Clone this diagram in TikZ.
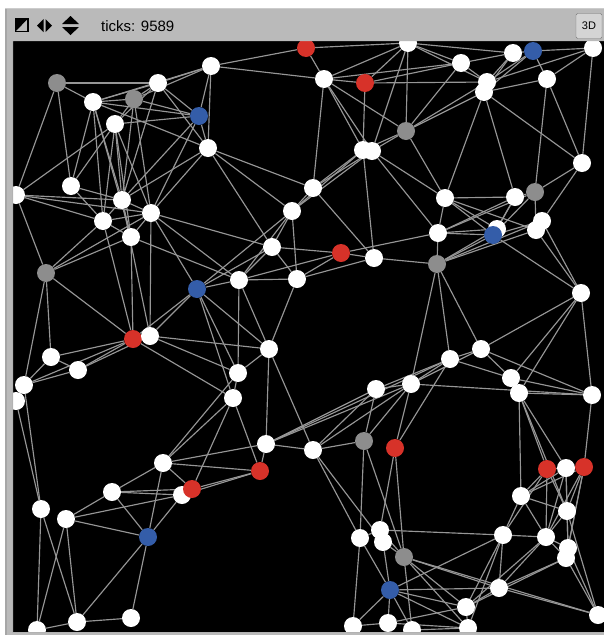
\documentclass[tikz,border=0pt]{standalone}
\usepackage{fontspec}
\setsansfont{Liberation Sans}
\usetikzlibrary{backgrounds}
\definecolor{nlred}{RGB}{215,50,41}
\definecolor{nlblue}{RGB}{52,93,169}
\definecolor{nlgray}{RGB}{141,141,141}
\definecolor{nlwhite}{RGB}{255,255,255}
\definecolor{linkgray}{RGB}{150,150,150}
\definecolor{barfill}{RGB}{186,186,186}
\definecolor{btnfill}{RGB}{212,212,212}
\definecolor{btnedge}{RGB}{120,120,120}

\begin{document}
\begin{tikzpicture}[x=1pt, y=-1pt,
  agent/.style={circle, minimum size=18pt, inner sep=0pt, draw=none},
  link/.style={draw=linkgray, line width=1.15pt},
  ticklabel/.style={font=\sffamily\fontsize{15}{17}\selectfont, anchor=base west, inner sep=0pt},
  viewbtn/.style={draw=btnedge, fill=btnfill, rounded corners=1.5pt, minimum width=26pt, minimum height=25pt, inner sep=0pt, font=\sffamily\fontsize{11}{12}\selectfont}]
  \useasboundingbox (0,0) rectangle (604,635);
  % turtles
  \foreach \i/\x/\y/\c in {1/306/48/nlred, 2/408/43/nlwhite, 3/513/53/nlwhite, 4/533/51/nlblue,
    5/593/48/nlwhite, 6/211/66/nlwhite, 7/461/63/nlwhite, 8/324/79/nlwhite, 9/365/83/nlred,
    10/487/82/nlwhite, 11/484/92/nlwhite, 12/547/79/nlwhite, 13/57/83/nlgray, 14/158/83/nlwhite,
    15/93/102/nlwhite, 16/134/99/nlgray, 17/115/124/nlwhite, 18/199/116/nlblue, 19/208/148/nlwhite,
    20/406/131/nlgray, 21/363/150/nlwhite, 22/372/151/nlwhite, 23/582/163/nlwhite, 24/71/186/nlwhite,
    25/16/195/nlwhite, 26/122/200/nlwhite, 27/151/213/nlwhite, 28/103/221/nlwhite, 29/131/237/nlwhite,
    30/313/188/nlwhite, 31/292/211/nlwhite, 32/445/198/nlwhite, 33/515/197/nlwhite, 34/535/192/nlgray,
    35/542/221/nlwhite, 36/536/230/nlwhite, 37/497/229/nlwhite, 38/493/235/nlblue, 39/438/233/nlwhite,
    40/272/247/nlwhite, 41/341/253/nlred, 42/374/258/nlwhite, 43/437/264/nlgray, 44/46/273/nlgray,
    45/197/289/nlblue, 46/239/280/nlwhite, 47/297/279/nlwhite, 48/581/293/nlwhite, 49/133/339/nlred,
    50/150/336/nlwhite, 51/51/357/nlwhite, 52/78/370/nlwhite, 53/269/349/nlwhite, 54/481/349/nlwhite,
    55/450/359/nlwhite, 56/238/373/nlwhite, 57/511/378/nlwhite, 58/24/385/nlwhite, 59/411/384/nlwhite,
    60/376/389/nlwhite, 61/519/393/nlwhite, 62/592/395/nlwhite, 63/16/401/nlwhite, 64/233/398/nlwhite,
    65/266/444/nlwhite, 66/364/441/nlgray, 67/395/448/nlred, 68/313/450/nlwhite, 69/163/463/nlwhite,
    70/260/471/nlred, 71/547/469/nlred, 72/566/468/nlwhite, 73/584/467/nlred, 74/112/492/nlwhite,
    75/182/495/nlwhite, 76/192/489/nlred, 77/521/496/nlwhite, 78/41/509/nlwhite, 79/567/511/nlwhite,
    80/66/519/nlwhite, 81/503/535/nlwhite, 82/546/537/nlwhite, 83/148/537/nlblue, 84/360/538/nlwhite,
    85/380/530/nlwhite, 86/383/542/nlwhite, 87/404/557/nlgray, 88/568/548/nlwhite, 89/566/558/nlwhite,
    90/390/590/nlblue, 91/499/588/nlwhite, 92/466/607/nlwhite, 93/598/615/nlwhite, 94/131/618/nlwhite,
    95/77/622/nlwhite, 96/37/630/nlwhite, 97/353/626/nlwhite, 98/388/623/nlwhite, 99/412/630/nlwhite,
    100/468/628/nlwhite}
    \node[agent, fill=\c] (n\i) at (\x,\y) {};
  % links, under the turtles
  \begin{scope}[on background layer]
    \fill[black] (13,41) rectangle (604,632);
    \foreach \a/\b in {13/14, 13/15, 13/25, 13/24,
      15/14, 15/16, 15/18, 15/19, 15/24, 15/28, 15/26, 15/29,
      16/14, 16/18, 16/17, 16/26, 16/27, 16/6,
      17/25, 17/24, 17/18, 17/26, 17/29, 17/27, 17/14, 17/28,
      14/6, 14/18, 14/19, 14/26, 6/18, 6/19, 6/1, 6/8, 6/15,
      18/19, 18/27, 18/26, 19/27, 19/30, 19/40, 19/31, 19/26,
      25/26, 25/28, 25/44, 25/27, 24/26, 24/28,
      26/27, 26/28, 26/29, 26/50, 27/28, 27/29, 27/40, 27/45, 27/46, 27/50,
      28/29, 28/44, 28/49, 29/44, 29/49, 29/46, 44/49, 44/51, 44/58, 44/27,
      45/46, 45/40, 45/50, 45/49, 45/56, 45/64, 45/53, 45/31,
      46/40, 46/31, 46/47, 46/41, 46/53, 46/56, 40/41, 40/47, 40/31,
      1/2, 1/8, 8/2, 8/9, 8/20, 8/30, 8/21, 8/22, 8/7,
      9/2, 9/21, 9/10, 9/7, 2/22, 2/20, 2/7, 2/10, 2/3,
      20/21, 20/22, 20/7, 20/11, 20/10, 20/32,
      30/31, 30/21, 30/22, 30/42, 31/22, 31/47, 31/21, 21/42, 22/39, 22/32,
      41/42, 41/47, 41/39, 42/47, 42/43,
      7/3, 7/10, 3/4, 3/10, 3/11, 4/5, 4/12, 4/11, 4/10, 5/12, 5/10, 5/23,
      12/11, 12/23, 12/34, 11/32, 11/33, 11/23,
      32/33, 32/37, 32/36, 32/39, 32/38, 33/34, 33/38, 33/39, 33/37,
      34/38, 34/39, 34/36, 34/23, 35/23, 35/36, 35/38, 39/38, 39/43, 39/37,
      43/38, 43/37, 43/36, 43/35, 48/38, 48/35, 48/36, 48/54, 48/57, 48/61, 48/62,
      43/59, 43/55, 43/54,
      54/55, 54/57, 54/62, 54/59, 55/59, 55/57, 55/60, 55/67, 55/65,
      59/62, 59/60, 59/66, 59/68, 59/67, 59/65, 57/61, 57/62, 61/62,
      60/66, 60/68, 60/65,
      49/50, 49/51, 49/52, 49/58, 49/64, 50/52, 50/56, 50/53, 51/52, 51/58,
      58/52, 58/78, 63/78, 58/63, 53/47, 53/56, 53/65, 53/68,
      56/64, 64/69, 64/70, 64/76, 65/70, 65/69, 65/68, 68/66, 68/84, 68/86,
      66/84, 66/87, 67/87, 67/85,
      69/74, 69/70, 69/76, 69/83, 69/56, 70/76, 70/75,
      74/75, 74/76, 74/80, 74/83, 75/83, 75/80, 78/96, 78/95,
      80/83, 80/95, 80/96, 83/95, 83/94, 94/95, 95/96,
      71/72, 72/73, 71/77, 71/79, 71/81, 71/82, 72/77, 72/79, 72/82, 72/88,
      73/79, 73/82, 73/88, 73/89, 73/77, 61/77, 61/71, 61/72, 61/79, 62/73,
      77/81, 77/82, 77/79, 79/82, 79/88, 79/93,
      81/82, 81/85, 81/91, 81/92, 81/100, 81/90, 82/88, 82/89, 82/91, 82/92,
      88/89, 89/91, 89/92, 89/93, 88/93,
      87/91, 87/92, 87/100, 87/99, 87/93,
      90/91, 90/97, 90/98, 90/99, 90/100, 90/92,
      84/97, 84/90, 84/85, 85/86, 86/90, 86/87, 85/87,
      97/98, 98/92, 98/100, 99/100, 91/93, 91/92, 92/100}
      \draw[link] (n\a) -- (n\b);
  \end{scope}
  % window frame, it hides turtles that stick out of the world
  \fill[barfill, even odd rule] (0,0) rectangle (604,635) (13,41) rectangle (604,632);
  \fill[white] (0,0) rectangle (604,8);
  \fill[white] (0,0) rectangle (5,635);
  \draw[gray!70, line width=1.5pt] (5.75,8) -- (5.75,635);
  \draw[gray!40, line width=1pt] (5,8.5) -- (604,8.5);
  \draw[gray!60, line width=0.8pt] (12.6,41) -- (12.6,632) -- (604,632);
  % toolbar
  \draw[line width=1.2pt] (15.5,18.5) rectangle (28,31.5);
  \fill (15.5,18.5) -- (28,18.5) -- (15.5,31.5) -- cycle;
  \fill (37,25.5) -- (43.5,19) -- (43.5,32) -- cycle;
  \fill (45.5,19) -- (52,25.5) -- (45.5,32) -- cycle;
  \fill (62,24) -- (70.5,16) -- (79,24) -- cycle;
  \fill (62,27) -- (79,27) -- (70.5,35) -- cycle;
  \node[ticklabel] (ticks) at (101,31) {ticks: 9589};
  \node[viewbtn] (view3d) at (589,26) {3D};
\end{tikzpicture}
\end{document}
